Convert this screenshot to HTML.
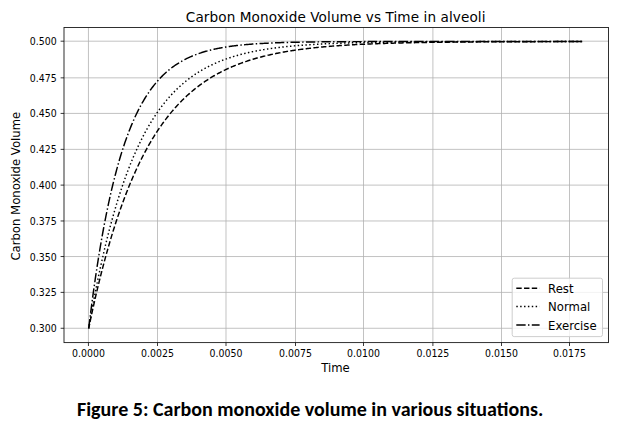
<!DOCTYPE html>
<html><head><meta charset="utf-8"><title>Carbon Monoxide Volume vs Time in alveoli</title>
<style>
html,body{margin:0;padding:0;background:#fff;}
body{width:618px;height:434px;overflow:hidden;}
svg{display:block;}
.g{stroke:#b0b0b0;stroke-width:0.78;}
.sp{fill:none;stroke:#1a1a1a;stroke-width:0.9;}
.tk{stroke:#000;stroke-width:0.78;}
text{font-family:"DejaVu Sans","Liberation Sans",sans-serif;fill:#000;}
.tl{font-size:10.0px;}
.lb{font-size:11.67px;}
.tt{font-size:13.6px;letter-spacing:0.09px;}
.lg{font-size:11.67px;}
.cap{font-family:"Carlito","Calibri","Liberation Sans",sans-serif;font-weight:bold;font-size:20.0px;}
</style></head>
<body>
<svg width="618" height="434" viewBox="0 0 618 434">
<defs><clipPath id="cp"><rect x="64.0" y="27.5" width="544.5" height="315.1"/></clipPath></defs>
<rect width="618" height="434" fill="#fff"/>
<line x1="88.45" y1="27.5" x2="88.45" y2="342.6" class="g"/>
<line x1="157.50" y1="27.5" x2="157.50" y2="342.6" class="g"/>
<line x1="226.00" y1="27.5" x2="226.00" y2="342.6" class="g"/>
<line x1="295.50" y1="27.5" x2="295.50" y2="342.6" class="g"/>
<line x1="363.50" y1="27.5" x2="363.50" y2="342.6" class="g"/>
<line x1="432.90" y1="27.5" x2="432.90" y2="342.6" class="g"/>
<line x1="501.50" y1="27.5" x2="501.50" y2="342.6" class="g"/>
<line x1="569.50" y1="27.5" x2="569.50" y2="342.6" class="g"/>
<line x1="64.0" y1="328.27" x2="608.5" y2="328.27" class="g"/>
<line x1="64.0" y1="292.39" x2="608.5" y2="292.39" class="g"/>
<line x1="64.0" y1="256.54" x2="608.5" y2="256.54" class="g"/>
<line x1="64.0" y1="220.98" x2="608.5" y2="220.98" class="g"/>
<line x1="64.0" y1="185.12" x2="608.5" y2="185.12" class="g"/>
<line x1="64.0" y1="149.36" x2="608.5" y2="149.36" class="g"/>
<line x1="64.0" y1="113.41" x2="608.5" y2="113.41" class="g"/>
<line x1="64.0" y1="77.85" x2="608.5" y2="77.85" class="g"/>
<line x1="64.0" y1="41.20" x2="608.5" y2="41.20" class="g"/>
<g clip-path="url(#cp)" fill="none" stroke="#000" stroke-width="1.46">
<path d="M88.70,328.30 L89.53,324.32 L90.35,320.39 L91.18,316.52 L92.00,312.70 L92.83,308.94 L93.65,305.22 L94.48,301.56 L95.30,297.95 L96.13,294.39 L96.95,290.88 L97.78,287.42 L98.60,284.01 L99.43,280.64 L100.25,277.32 L101.08,274.05 L101.90,270.82 L102.73,267.63 L103.55,264.49 L104.38,261.40 L105.20,258.35 L106.03,255.34 L106.85,252.37 L107.68,249.44 L108.50,246.55 L109.33,243.71 L110.15,240.90 L110.98,238.13 L111.80,235.40 L112.63,232.71 L113.45,230.05 L114.28,227.44 L115.10,224.86 L115.93,222.31 L116.75,219.80 L117.58,217.32 L118.40,214.88 L119.23,212.48 L120.05,210.10 L120.88,207.76 L121.70,205.45 L122.53,203.18 L123.36,200.93 L124.18,198.72 L125.01,196.54 L125.83,194.38 L126.66,192.26 L127.48,190.17 L128.31,188.11 L129.13,186.07 L129.96,184.06 L130.78,182.08 L131.61,180.13 L132.43,178.21 L133.26,176.31 L134.08,174.44 L134.91,172.59 L135.73,170.77 L136.56,168.98 L137.38,167.21 L138.21,165.46 L139.03,163.74 L139.86,162.05 L140.68,160.37 L141.51,158.72 L142.33,157.09 L143.16,155.49 L143.98,153.91 L144.81,152.35 L145.63,150.81 L146.46,149.29 L147.28,147.79 L148.11,146.32 L148.93,144.86 L149.76,143.43 L150.58,142.01 L151.41,140.62 L152.23,139.24 L153.06,137.88 L153.88,136.55 L154.71,135.23 L155.53,133.93 L156.36,132.64 L157.18,131.38 L158.01,130.13 L158.84,128.90 L159.66,127.69 L160.49,126.49 L161.31,125.31 L162.14,124.15 L162.96,123.00 L163.79,121.87 L164.61,120.75 L165.44,119.65 L166.26,118.57 L167.09,117.50 L167.91,116.44 L168.74,115.40 L169.56,114.37 L170.39,113.36 L171.21,112.37 L172.04,111.38 L172.86,110.41 L173.69,109.45 L174.51,108.51 L175.34,107.58 L176.16,106.66 L176.99,105.76 L177.81,104.87 L178.64,103.99 L179.46,103.12 L180.29,102.26 L181.11,101.42 L181.94,100.59 L182.76,99.77 L183.59,98.96 L184.41,98.16 L185.24,97.38 L186.06,96.60 L186.89,95.83 L187.71,95.08 L188.54,94.34 L189.36,93.60 L190.19,92.88 L191.01,92.17 L191.84,91.46 L192.67,90.77 L193.49,90.09 L194.32,89.41 L195.14,88.75 L195.97,88.09 L196.79,87.44 L197.62,86.81 L198.44,86.18 L199.27,85.56 L200.09,84.94 L200.92,84.34 L201.74,83.75 L202.57,83.16 L203.39,82.58 L204.22,82.01 L205.04,81.45 L205.87,80.89 L206.69,80.35 L207.52,79.81 L208.34,79.28 L209.17,78.75 L209.99,78.23 L210.82,77.72 L211.64,77.22 L212.47,76.73 L213.29,76.24 L214.12,75.75 L214.94,75.28 L215.77,74.81 L216.59,74.35 L217.42,73.89 L218.24,73.44 L219.07,73.00 L219.89,72.56 L220.72,72.13 L221.54,71.70 L222.37,71.29 L223.19,70.87 L224.02,70.46 L224.84,70.06 L225.67,69.67 L226.50,69.27 L227.32,68.89 L228.15,68.51 L228.97,68.13 L229.80,67.76 L230.62,67.40 L231.45,67.04 L232.27,66.69 L233.10,66.34 L233.92,65.99 L234.75,65.65 L235.57,65.32 L236.40,64.99 L237.22,64.66 L238.05,64.34 L238.87,64.02 L239.70,63.71 L240.52,63.40 L241.35,63.10 L242.17,62.80 L243.00,62.50 L243.82,62.21 L244.65,61.92 L245.47,61.64 L246.30,61.36 L247.12,61.08 L247.95,60.81 L248.77,60.54 L249.60,60.28 L250.42,60.02 L251.25,59.76 L252.07,59.51 L252.90,59.26 L253.72,59.01 L254.55,58.77 L255.37,58.53 L256.20,58.29 L257.02,58.06 L257.85,57.83 L258.67,57.60 L259.50,57.38 L260.32,57.16 L261.15,56.94 L261.98,56.73 L262.80,56.51 L263.63,56.31 L264.45,56.10 L265.28,55.90 L266.10,55.70 L266.93,55.50 L267.75,55.31 L268.58,55.11 L269.40,54.93 L270.23,54.74 L271.05,54.56 L271.88,54.37 L272.70,54.20 L273.53,54.02 L274.35,53.85 L275.18,53.67 L276.00,53.51 L276.83,53.34 L277.65,53.17 L278.48,53.01 L279.30,52.85 L280.13,52.69 L280.95,52.54 L281.78,52.39 L282.60,52.23 L283.43,52.09 L284.25,51.94 L285.08,51.79 L285.90,51.65 L286.73,51.51 L287.55,51.37 L288.38,51.23 L289.20,51.10 L290.03,50.97 L290.85,50.83 L291.68,50.70 L292.50,50.58 L293.33,50.45 L294.15,50.33 L294.98,50.20 L295.81,50.08 L296.63,49.96 L297.46,49.85 L298.28,49.73 L299.11,49.62 L299.93,49.50 L300.76,49.39 L301.58,49.28 L302.41,49.17 L303.23,49.07 L304.06,48.96 L304.88,48.86 L305.71,48.76 L306.53,48.66 L307.36,48.56 L308.18,48.46 L309.01,48.36 L309.83,48.27 L310.66,48.17 L311.48,48.08 L312.31,47.99 L313.13,47.90 L313.96,47.81 L314.78,47.72 L315.61,47.64 L316.43,47.55 L317.26,47.47 L318.08,47.38 L318.91,47.30 L319.73,47.22 L320.56,47.14 L321.38,47.06 L322.21,46.99 L323.03,46.91 L323.86,46.84 L324.68,46.76 L325.51,46.69 L326.33,46.62 L327.16,46.55 L327.98,46.48 L328.81,46.41 L329.64,46.34 L330.46,46.27 L331.29,46.21 L332.11,46.14 L332.94,46.08 L333.76,46.01 L334.59,45.95 L335.41,45.89 L336.24,45.83 L337.06,45.77 L337.89,45.71 L338.71,45.65 L339.54,45.59 L340.36,45.53 L341.19,45.48 L342.01,45.42 L342.84,45.37 L343.66,45.32 L344.49,45.26 L345.31,45.21 L346.14,45.16 L346.96,45.11 L347.79,45.06 L348.61,45.01 L349.44,44.96 L350.26,44.91 L351.09,44.86 L351.91,44.82 L352.74,44.77 L353.56,44.73 L354.39,44.68 L355.21,44.64 L356.04,44.59 L356.86,44.55 L357.69,44.51 L358.51,44.47 L359.34,44.43 L360.16,44.38 L360.99,44.34 L361.81,44.31 L362.64,44.27 L363.46,44.23 L364.29,44.19 L365.12,44.15 L365.94,44.12 L366.77,44.08 L367.59,44.04 L368.42,44.01 L369.24,43.97 L370.07,43.94 L370.89,43.91 L371.72,43.87 L372.54,43.84 L373.37,43.81 L374.19,43.77 L375.02,43.74 L375.84,43.71 L376.67,43.68 L377.49,43.65 L378.32,43.62 L379.14,43.59 L379.97,43.56 L380.79,43.53 L381.62,43.51 L382.44,43.48 L383.27,43.45 L384.09,43.42 L384.92,43.40 L385.74,43.37 L386.57,43.34 L387.39,43.32 L388.22,43.29 L389.04,43.27 L389.87,43.24 L390.69,43.22 L391.52,43.20 L392.34,43.17 L393.17,43.15 L393.99,43.13 L394.82,43.10 L395.64,43.08 L396.47,43.06 L397.29,43.04 L398.12,43.02 L398.95,43.00 L399.77,42.97 L400.60,42.95 L401.42,42.93 L402.25,42.91 L403.07,42.89 L403.90,42.87 L404.72,42.86 L405.55,42.84 L406.37,42.82 L407.20,42.80 L408.02,42.78 L408.85,42.76 L409.67,42.75 L410.50,42.73 L411.32,42.71 L412.15,42.70 L412.97,42.68 L413.80,42.66 L414.62,42.65 L415.45,42.63 L416.27,42.61 L417.10,42.60 L417.92,42.58 L418.75,42.57 L419.57,42.55 L420.40,42.54 L421.22,42.53 L422.05,42.51 L422.87,42.50 L423.70,42.48 L424.52,42.47 L425.35,42.46 L426.17,42.44 L427.00,42.43 L427.82,42.42 L428.65,42.40 L429.47,42.39 L430.30,42.38 L431.12,42.37 L431.95,42.35 L432.78,42.34 L433.60,42.33 L434.43,42.32 L435.25,42.31 L436.08,42.30 L436.90,42.29 L437.73,42.28 L438.55,42.26 L439.38,42.25 L440.20,42.24 L441.03,42.23 L441.85,42.22 L442.68,42.21 L443.50,42.20 L444.33,42.19 L445.15,42.18 L445.98,42.17 L446.80,42.16 L447.63,42.16 L448.45,42.15 L449.28,42.14 L450.10,42.13 L450.93,42.12 L451.75,42.11 L452.58,42.10 L453.40,42.09 L454.23,42.09 L455.05,42.08 L455.88,42.07 L456.70,42.06 L457.53,42.05 L458.35,42.05 L459.18,42.04 L460.00,42.03 L460.83,42.02 L461.65,42.02 L462.48,42.01 L463.30,42.00 L464.13,42.00 L464.95,41.99 L465.78,41.98 L466.60,41.98 L467.43,41.97 L468.26,41.96 L469.08,41.96 L469.91,41.95 L470.73,41.94 L471.56,41.94 L472.38,41.93 L473.21,41.92 L474.03,41.92 L474.86,41.91 L475.68,41.91 L476.51,41.90 L477.33,41.90 L478.16,41.89 L478.98,41.89 L479.81,41.88 L480.63,41.87 L481.46,41.87 L482.28,41.86 L483.11,41.86 L483.93,41.85 L484.76,41.85 L485.58,41.84 L486.41,41.84 L487.23,41.84 L488.06,41.83 L488.88,41.83 L489.71,41.82 L490.53,41.82 L491.36,41.81 L492.18,41.81 L493.01,41.80 L493.83,41.80 L494.66,41.80 L495.48,41.79 L496.31,41.79 L497.13,41.78 L497.96,41.78 L498.78,41.78 L499.61,41.77 L500.43,41.77 L501.26,41.76 L502.09,41.76 L502.91,41.76 L503.74,41.75 L504.56,41.75 L505.39,41.75 L506.21,41.74 L507.04,41.74 L507.86,41.74 L508.69,41.73 L509.51,41.73 L510.34,41.73 L511.16,41.72 L511.99,41.72 L512.81,41.72 L513.64,41.71 L514.46,41.71 L515.29,41.71 L516.11,41.71 L516.94,41.70 L517.76,41.70 L518.59,41.70 L519.41,41.69 L520.24,41.69 L521.06,41.69 L521.89,41.69 L522.71,41.68 L523.54,41.68 L524.36,41.68 L525.19,41.68 L526.01,41.67 L526.84,41.67 L527.66,41.67 L528.49,41.67 L529.31,41.66 L530.14,41.66 L530.96,41.66 L531.79,41.66 L532.61,41.66 L533.44,41.65 L534.26,41.65 L535.09,41.65 L535.92,41.65 L536.74,41.64 L537.57,41.64 L538.39,41.64 L539.22,41.64 L540.04,41.64 L540.87,41.64 L541.69,41.63 L542.52,41.63 L543.34,41.63 L544.17,41.63 L544.99,41.63 L545.82,41.62 L546.64,41.62 L547.47,41.62 L548.29,41.62 L549.12,41.62 L549.94,41.62 L550.77,41.61 L551.59,41.61 L552.42,41.61 L553.24,41.61 L554.07,41.61 L554.89,41.61 L555.72,41.60 L556.54,41.60 L557.37,41.60 L558.19,41.60 L559.02,41.60 L559.84,41.60 L560.67,41.60 L561.49,41.60 L562.32,41.59 L563.14,41.59 L563.97,41.59 L564.79,41.59 L565.62,41.59 L566.44,41.59 L567.27,41.59 L568.09,41.59 L568.92,41.58 L569.74,41.58 L570.57,41.58 L571.40,41.58 L572.22,41.58 L573.05,41.58 L573.87,41.58 L574.70,41.58 L575.52,41.58 L576.35,41.57 L577.17,41.57 L578.00,41.57 L578.82,41.57 L579.65,41.57 L580.47,41.57 L581.30,41.57 L582.12,41.57 L582.95,41.57 L583.77,41.57" stroke-dasharray="5.40,2.34" stroke-dashoffset="0.9"/>
<path d="M88.70,328.30 L89.53,323.52 L90.35,318.82 L91.18,314.20 L92.00,309.66 L92.83,305.19 L93.65,300.80 L94.48,296.48 L95.30,292.23 L96.13,288.06 L96.95,283.95 L97.78,279.91 L98.60,275.94 L99.43,272.03 L100.25,268.19 L101.08,264.41 L101.90,260.70 L102.73,257.05 L103.55,253.46 L104.38,249.93 L105.20,246.45 L106.03,243.04 L106.85,239.68 L107.68,236.38 L108.50,233.13 L109.33,229.94 L110.15,226.80 L110.98,223.71 L111.80,220.68 L112.63,217.69 L113.45,214.76 L114.28,211.87 L115.10,209.03 L115.93,206.24 L116.75,203.50 L117.58,200.80 L118.40,198.15 L119.23,195.54 L120.05,192.97 L120.88,190.45 L121.70,187.96 L122.53,185.52 L123.36,183.13 L124.18,180.77 L125.01,178.45 L125.83,176.16 L126.66,173.92 L127.48,171.71 L128.31,169.55 L129.13,167.41 L129.96,165.31 L130.78,163.25 L131.61,161.22 L132.43,159.23 L133.26,157.27 L134.08,155.34 L134.91,153.44 L135.73,151.58 L136.56,149.74 L137.38,147.94 L138.21,146.17 L139.03,144.42 L139.86,142.71 L140.68,141.02 L141.51,139.36 L142.33,137.73 L143.16,136.13 L143.98,134.55 L144.81,133.00 L145.63,131.48 L146.46,129.98 L147.28,128.51 L148.11,127.06 L148.93,125.63 L149.76,124.23 L150.58,122.85 L151.41,121.50 L152.23,120.16 L153.06,118.85 L153.88,117.56 L154.71,116.30 L155.53,115.05 L156.36,113.83 L157.18,112.62 L158.01,111.44 L158.84,110.27 L159.66,109.13 L160.49,108.00 L161.31,106.89 L162.14,105.80 L162.96,104.73 L163.79,103.68 L164.61,102.64 L165.44,101.62 L166.26,100.62 L167.09,99.64 L167.91,98.67 L168.74,97.72 L169.56,96.78 L170.39,95.86 L171.21,94.95 L172.04,94.06 L172.86,93.19 L173.69,92.32 L174.51,91.48 L175.34,90.65 L176.16,89.83 L176.99,89.02 L177.81,88.23 L178.64,87.45 L179.46,86.69 L180.29,85.93 L181.11,85.19 L181.94,84.46 L182.76,83.75 L183.59,83.05 L184.41,82.35 L185.24,81.67 L186.06,81.00 L186.89,80.35 L187.71,79.70 L188.54,79.06 L189.36,78.44 L190.19,77.82 L191.01,77.22 L191.84,76.62 L192.67,76.04 L193.49,75.46 L194.32,74.89 L195.14,74.34 L195.97,73.79 L196.79,73.25 L197.62,72.72 L198.44,72.20 L199.27,71.69 L200.09,71.19 L200.92,70.69 L201.74,70.21 L202.57,69.73 L203.39,69.26 L204.22,68.80 L205.04,68.34 L205.87,67.90 L206.69,67.46 L207.52,67.02 L208.34,66.60 L209.17,66.18 L209.99,65.77 L210.82,65.36 L211.64,64.97 L212.47,64.58 L213.29,64.19 L214.12,63.81 L214.94,63.44 L215.77,63.08 L216.59,62.72 L217.42,62.36 L218.24,62.02 L219.07,61.67 L219.89,61.34 L220.72,61.01 L221.54,60.68 L222.37,60.36 L223.19,60.05 L224.02,59.74 L224.84,59.44 L225.67,59.14 L226.50,58.84 L227.32,58.55 L228.15,58.27 L228.97,57.99 L229.80,57.72 L230.62,57.45 L231.45,57.18 L232.27,56.92 L233.10,56.66 L233.92,56.41 L234.75,56.16 L235.57,55.92 L236.40,55.68 L237.22,55.44 L238.05,55.21 L238.87,54.98 L239.70,54.76 L240.52,54.53 L241.35,54.32 L242.17,54.10 L243.00,53.89 L243.82,53.69 L244.65,53.48 L245.47,53.28 L246.30,53.09 L247.12,52.90 L247.95,52.71 L248.77,52.52 L249.60,52.34 L250.42,52.15 L251.25,51.98 L252.07,51.80 L252.90,51.63 L253.72,51.46 L254.55,51.30 L255.37,51.13 L256.20,50.97 L257.02,50.81 L257.85,50.66 L258.67,50.51 L259.50,50.36 L260.32,50.21 L261.15,50.06 L261.98,49.92 L262.80,49.78 L263.63,49.64 L264.45,49.51 L265.28,49.37 L266.10,49.24 L266.93,49.11 L267.75,48.99 L268.58,48.86 L269.40,48.74 L270.23,48.62 L271.05,48.50 L271.88,48.38 L272.70,48.27 L273.53,48.16 L274.35,48.05 L275.18,47.94 L276.00,47.83 L276.83,47.72 L277.65,47.62 L278.48,47.52 L279.30,47.42 L280.13,47.32 L280.95,47.22 L281.78,47.13 L282.60,47.03 L283.43,46.94 L284.25,46.85 L285.08,46.76 L285.90,46.67 L286.73,46.59 L287.55,46.50 L288.38,46.42 L289.20,46.34 L290.03,46.26 L290.85,46.18 L291.68,46.10 L292.50,46.02 L293.33,45.95 L294.15,45.87 L294.98,45.80 L295.81,45.73 L296.63,45.66 L297.46,45.59 L298.28,45.52 L299.11,45.45 L299.93,45.39 L300.76,45.32 L301.58,45.26 L302.41,45.20 L303.23,45.14 L304.06,45.08 L304.88,45.02 L305.71,44.96 L306.53,44.90 L307.36,44.84 L308.18,44.79 L309.01,44.73 L309.83,44.68 L310.66,44.63 L311.48,44.57 L312.31,44.52 L313.13,44.47 L313.96,44.42 L314.78,44.37 L315.61,44.33 L316.43,44.28 L317.26,44.23 L318.08,44.19 L318.91,44.14 L319.73,44.10 L320.56,44.05 L321.38,44.01 L322.21,43.97 L323.03,43.93 L323.86,43.89 L324.68,43.85 L325.51,43.81 L326.33,43.77 L327.16,43.73 L327.98,43.70 L328.81,43.66 L329.64,43.62 L330.46,43.59 L331.29,43.55 L332.11,43.52 L332.94,43.49 L333.76,43.45 L334.59,43.42 L335.41,43.39 L336.24,43.36 L337.06,43.33 L337.89,43.30 L338.71,43.27 L339.54,43.24 L340.36,43.21 L341.19,43.18 L342.01,43.15 L342.84,43.12 L343.66,43.10 L344.49,43.07 L345.31,43.04 L346.14,43.02 L346.96,42.99 L347.79,42.97 L348.61,42.94 L349.44,42.92 L350.26,42.90 L351.09,42.87 L351.91,42.85 L352.74,42.83 L353.56,42.80 L354.39,42.78 L355.21,42.76 L356.04,42.74 L356.86,42.72 L357.69,42.70 L358.51,42.68 L359.34,42.66 L360.16,42.64 L360.99,42.62 L361.81,42.60 L362.64,42.58 L363.46,42.57 L364.29,42.55 L365.12,42.53 L365.94,42.51 L366.77,42.50 L367.59,42.48 L368.42,42.46 L369.24,42.45 L370.07,42.43 L370.89,42.42 L371.72,42.40 L372.54,42.39 L373.37,42.37 L374.19,42.36 L375.02,42.34 L375.84,42.33 L376.67,42.32 L377.49,42.30 L378.32,42.29 L379.14,42.28 L379.97,42.26 L380.79,42.25 L381.62,42.24 L382.44,42.22 L383.27,42.21 L384.09,42.20 L384.92,42.19 L385.74,42.18 L386.57,42.17 L387.39,42.16 L388.22,42.14 L389.04,42.13 L389.87,42.12 L390.69,42.11 L391.52,42.10 L392.34,42.09 L393.17,42.08 L393.99,42.07 L394.82,42.06 L395.64,42.05 L396.47,42.04 L397.29,42.04 L398.12,42.03 L398.95,42.02 L399.77,42.01 L400.60,42.00 L401.42,41.99 L402.25,41.98 L403.07,41.98 L403.90,41.97 L404.72,41.96 L405.55,41.95 L406.37,41.95 L407.20,41.94 L408.02,41.93 L408.85,41.92 L409.67,41.92 L410.50,41.91 L411.32,41.90 L412.15,41.90 L412.97,41.89 L413.80,41.88 L414.62,41.88 L415.45,41.87 L416.27,41.86 L417.10,41.86 L417.92,41.85 L418.75,41.85 L419.57,41.84 L420.40,41.83 L421.22,41.83 L422.05,41.82 L422.87,41.82 L423.70,41.81 L424.52,41.81 L425.35,41.80 L426.17,41.80 L427.00,41.79 L427.82,41.79 L428.65,41.78 L429.47,41.78 L430.30,41.77 L431.12,41.77 L431.95,41.76 L432.78,41.76 L433.60,41.76 L434.43,41.75 L435.25,41.75 L436.08,41.74 L436.90,41.74 L437.73,41.74 L438.55,41.73 L439.38,41.73 L440.20,41.72 L441.03,41.72 L441.85,41.72 L442.68,41.71 L443.50,41.71 L444.33,41.71 L445.15,41.70 L445.98,41.70 L446.80,41.70 L447.63,41.69 L448.45,41.69 L449.28,41.69 L450.10,41.68 L450.93,41.68 L451.75,41.68 L452.58,41.67 L453.40,41.67 L454.23,41.67 L455.05,41.67 L455.88,41.66 L456.70,41.66 L457.53,41.66 L458.35,41.65 L459.18,41.65 L460.00,41.65 L460.83,41.65 L461.65,41.64 L462.48,41.64 L463.30,41.64 L464.13,41.64 L464.95,41.64 L465.78,41.63 L466.60,41.63 L467.43,41.63 L468.26,41.63 L469.08,41.62 L469.91,41.62 L470.73,41.62 L471.56,41.62 L472.38,41.62 L473.21,41.61 L474.03,41.61 L474.86,41.61 L475.68,41.61 L476.51,41.61 L477.33,41.60 L478.16,41.60 L478.98,41.60 L479.81,41.60 L480.63,41.60 L481.46,41.60 L482.28,41.59 L483.11,41.59 L483.93,41.59 L484.76,41.59 L485.58,41.59 L486.41,41.59 L487.23,41.59 L488.06,41.58 L488.88,41.58 L489.71,41.58 L490.53,41.58 L491.36,41.58 L492.18,41.58 L493.01,41.58 L493.83,41.58 L494.66,41.57 L495.48,41.57 L496.31,41.57 L497.13,41.57 L497.96,41.57 L498.78,41.57 L499.61,41.57 L500.43,41.57 L501.26,41.56 L502.09,41.56 L502.91,41.56 L503.74,41.56 L504.56,41.56 L505.39,41.56 L506.21,41.56 L507.04,41.56 L507.86,41.56 L508.69,41.56 L509.51,41.55 L510.34,41.55 L511.16,41.55 L511.99,41.55 L512.81,41.55 L513.64,41.55 L514.46,41.55 L515.29,41.55 L516.11,41.55 L516.94,41.55 L517.76,41.55 L518.59,41.55 L519.41,41.54 L520.24,41.54 L521.06,41.54 L521.89,41.54 L522.71,41.54 L523.54,41.54 L524.36,41.54 L525.19,41.54 L526.01,41.54 L526.84,41.54 L527.66,41.54 L528.49,41.54 L529.31,41.54 L530.14,41.54 L530.96,41.54 L531.79,41.53 L532.61,41.53 L533.44,41.53 L534.26,41.53 L535.09,41.53 L535.92,41.53 L536.74,41.53 L537.57,41.53 L538.39,41.53 L539.22,41.53 L540.04,41.53 L540.87,41.53 L541.69,41.53 L542.52,41.53 L543.34,41.53 L544.17,41.53 L544.99,41.53 L545.82,41.53 L546.64,41.53 L547.47,41.53 L548.29,41.52 L549.12,41.52 L549.94,41.52 L550.77,41.52 L551.59,41.52 L552.42,41.52 L553.24,41.52 L554.07,41.52 L554.89,41.52 L555.72,41.52 L556.54,41.52 L557.37,41.52 L558.19,41.52 L559.02,41.52 L559.84,41.52 L560.67,41.52 L561.49,41.52 L562.32,41.52 L563.14,41.52 L563.97,41.52 L564.79,41.52 L565.62,41.52 L566.44,41.52 L567.27,41.52 L568.09,41.52 L568.92,41.52 L569.74,41.52 L570.57,41.52 L571.40,41.52 L572.22,41.52 L573.05,41.51 L573.87,41.51 L574.70,41.51 L575.52,41.51 L576.35,41.51 L577.17,41.51 L578.00,41.51 L578.82,41.51 L579.65,41.51 L580.47,41.51 L581.30,41.51 L582.12,41.51 L582.95,41.51 L583.77,41.51" stroke-dasharray="1.46,2.41" stroke-dashoffset="1.1"/>
<path d="M88.70,328.30 L89.53,321.57 L90.35,314.99 L91.18,308.57 L92.00,302.30 L92.83,296.17 L93.65,290.19 L94.48,284.36 L95.30,278.65 L96.13,273.08 L96.95,267.65 L97.78,262.34 L98.60,257.15 L99.43,252.09 L100.25,247.14 L101.08,242.32 L101.90,237.60 L102.73,233.00 L103.55,228.50 L104.38,224.11 L105.20,219.82 L106.03,215.63 L106.85,211.55 L107.68,207.55 L108.50,203.65 L109.33,199.85 L110.15,196.13 L110.98,192.50 L111.80,188.95 L112.63,185.49 L113.45,182.11 L114.28,178.81 L115.10,175.58 L115.93,172.44 L116.75,169.36 L117.58,166.36 L118.40,163.43 L119.23,160.56 L120.05,157.77 L120.88,155.04 L121.70,152.37 L122.53,149.77 L123.36,147.23 L124.18,144.75 L125.01,142.32 L125.83,139.95 L126.66,137.64 L127.48,135.38 L128.31,133.18 L129.13,131.03 L129.96,128.93 L130.78,126.87 L131.61,124.87 L132.43,122.91 L133.26,121.00 L134.08,119.13 L134.91,117.31 L135.73,115.53 L136.56,113.79 L137.38,112.09 L138.21,110.44 L139.03,108.82 L139.86,107.24 L140.68,105.69 L141.51,104.19 L142.33,102.71 L143.16,101.28 L143.98,99.87 L144.81,98.50 L145.63,97.16 L146.46,95.86 L147.28,94.58 L148.11,93.33 L148.93,92.12 L149.76,90.93 L150.58,89.77 L151.41,88.64 L152.23,87.53 L153.06,86.45 L153.88,85.39 L154.71,84.36 L155.53,83.36 L156.36,82.37 L157.18,81.41 L158.01,80.48 L158.84,79.56 L159.66,78.67 L160.49,77.79 L161.31,76.94 L162.14,76.11 L162.96,75.30 L163.79,74.50 L164.61,73.73 L165.44,72.97 L166.26,72.23 L167.09,71.51 L167.91,70.81 L168.74,70.12 L169.56,69.45 L170.39,68.79 L171.21,68.15 L172.04,67.52 L172.86,66.91 L173.69,66.32 L174.51,65.73 L175.34,65.16 L176.16,64.61 L176.99,64.07 L177.81,63.54 L178.64,63.02 L179.46,62.51 L180.29,62.02 L181.11,61.54 L181.94,61.07 L182.76,60.61 L183.59,60.16 L184.41,59.72 L185.24,59.29 L186.06,58.88 L186.89,58.47 L187.71,58.07 L188.54,57.68 L189.36,57.30 L190.19,56.93 L191.01,56.57 L191.84,56.21 L192.67,55.87 L193.49,55.53 L194.32,55.20 L195.14,54.88 L195.97,54.57 L196.79,54.26 L197.62,53.96 L198.44,53.67 L199.27,53.38 L200.09,53.10 L200.92,52.83 L201.74,52.56 L202.57,52.30 L203.39,52.05 L204.22,51.80 L205.04,51.56 L205.87,51.32 L206.69,51.09 L207.52,50.87 L208.34,50.65 L209.17,50.43 L209.99,50.22 L210.82,50.02 L211.64,49.82 L212.47,49.62 L213.29,49.43 L214.12,49.25 L214.94,49.06 L215.77,48.89 L216.59,48.71 L217.42,48.54 L218.24,48.38 L219.07,48.22 L219.89,48.06 L220.72,47.91 L221.54,47.76 L222.37,47.61 L223.19,47.46 L224.02,47.32 L224.84,47.19 L225.67,47.05 L226.50,46.92 L227.32,46.80 L228.15,46.67 L228.97,46.55 L229.80,46.43 L230.62,46.32 L231.45,46.20 L232.27,46.09 L233.10,45.99 L233.92,45.88 L234.75,45.78 L235.57,45.68 L236.40,45.58 L237.22,45.48 L238.05,45.39 L238.87,45.30 L239.70,45.21 L240.52,45.12 L241.35,45.04 L242.17,44.95 L243.00,44.87 L243.82,44.79 L244.65,44.72 L245.47,44.64 L246.30,44.57 L247.12,44.49 L247.95,44.42 L248.77,44.36 L249.60,44.29 L250.42,44.22 L251.25,44.16 L252.07,44.10 L252.90,44.04 L253.72,43.98 L254.55,43.92 L255.37,43.86 L256.20,43.81 L257.02,43.75 L257.85,43.70 L258.67,43.65 L259.50,43.60 L260.32,43.55 L261.15,43.50 L261.98,43.45 L262.80,43.41 L263.63,43.36 L264.45,43.32 L265.28,43.28 L266.10,43.23 L266.93,43.19 L267.75,43.15 L268.58,43.11 L269.40,43.08 L270.23,43.04 L271.05,43.00 L271.88,42.97 L272.70,42.93 L273.53,42.90 L274.35,42.87 L275.18,42.84 L276.00,42.80 L276.83,42.77 L277.65,42.74 L278.48,42.71 L279.30,42.69 L280.13,42.66 L280.95,42.63 L281.78,42.60 L282.60,42.58 L283.43,42.55 L284.25,42.53 L285.08,42.50 L285.90,42.48 L286.73,42.46 L287.55,42.43 L288.38,42.41 L289.20,42.39 L290.03,42.37 L290.85,42.35 L291.68,42.33 L292.50,42.31 L293.33,42.29 L294.15,42.27 L294.98,42.25 L295.81,42.24 L296.63,42.22 L297.46,42.20 L298.28,42.19 L299.11,42.17 L299.93,42.15 L300.76,42.14 L301.58,42.12 L302.41,42.11 L303.23,42.10 L304.06,42.08 L304.88,42.07 L305.71,42.05 L306.53,42.04 L307.36,42.03 L308.18,42.02 L309.01,42.00 L309.83,41.99 L310.66,41.98 L311.48,41.97 L312.31,41.96 L313.13,41.95 L313.96,41.94 L314.78,41.93 L315.61,41.92 L316.43,41.91 L317.26,41.90 L318.08,41.89 L318.91,41.88 L319.73,41.87 L320.56,41.86 L321.38,41.85 L322.21,41.84 L323.03,41.84 L323.86,41.83 L324.68,41.82 L325.51,41.81 L326.33,41.81 L327.16,41.80 L327.98,41.79 L328.81,41.78 L329.64,41.78 L330.46,41.77 L331.29,41.77 L332.11,41.76 L332.94,41.75 L333.76,41.75 L334.59,41.74 L335.41,41.74 L336.24,41.73 L337.06,41.72 L337.89,41.72 L338.71,41.71 L339.54,41.71 L340.36,41.70 L341.19,41.70 L342.01,41.69 L342.84,41.69 L343.66,41.69 L344.49,41.68 L345.31,41.68 L346.14,41.67 L346.96,41.67 L347.79,41.66 L348.61,41.66 L349.44,41.66 L350.26,41.65 L351.09,41.65 L351.91,41.65 L352.74,41.64 L353.56,41.64 L354.39,41.64 L355.21,41.63 L356.04,41.63 L356.86,41.63 L357.69,41.62 L358.51,41.62 L359.34,41.62 L360.16,41.62 L360.99,41.61 L361.81,41.61 L362.64,41.61 L363.46,41.61 L364.29,41.60 L365.12,41.60 L365.94,41.60 L366.77,41.60 L367.59,41.59 L368.42,41.59 L369.24,41.59 L370.07,41.59 L370.89,41.58 L371.72,41.58 L372.54,41.58 L373.37,41.58 L374.19,41.58 L375.02,41.58 L375.84,41.57 L376.67,41.57 L377.49,41.57 L378.32,41.57 L379.14,41.57 L379.97,41.57 L380.79,41.56 L381.62,41.56 L382.44,41.56 L383.27,41.56 L384.09,41.56 L384.92,41.56 L385.74,41.56 L386.57,41.55 L387.39,41.55 L388.22,41.55 L389.04,41.55 L389.87,41.55 L390.69,41.55 L391.52,41.55 L392.34,41.55 L393.17,41.54 L393.99,41.54 L394.82,41.54 L395.64,41.54 L396.47,41.54 L397.29,41.54 L398.12,41.54 L398.95,41.54 L399.77,41.54 L400.60,41.54 L401.42,41.54 L402.25,41.53 L403.07,41.53 L403.90,41.53 L404.72,41.53 L405.55,41.53 L406.37,41.53 L407.20,41.53 L408.02,41.53 L408.85,41.53 L409.67,41.53 L410.50,41.53 L411.32,41.53 L412.15,41.53 L412.97,41.53 L413.80,41.52 L414.62,41.52 L415.45,41.52 L416.27,41.52 L417.10,41.52 L417.92,41.52 L418.75,41.52 L419.57,41.52 L420.40,41.52 L421.22,41.52 L422.05,41.52 L422.87,41.52 L423.70,41.52 L424.52,41.52 L425.35,41.52 L426.17,41.52 L427.00,41.52 L427.82,41.52 L428.65,41.52 L429.47,41.52 L430.30,41.52 L431.12,41.51 L431.95,41.51 L432.78,41.51 L433.60,41.51 L434.43,41.51 L435.25,41.51 L436.08,41.51 L436.90,41.51 L437.73,41.51 L438.55,41.51 L439.38,41.51 L440.20,41.51 L441.03,41.51 L441.85,41.51 L442.68,41.51 L443.50,41.51 L444.33,41.51 L445.15,41.51 L445.98,41.51 L446.80,41.51 L447.63,41.51 L448.45,41.51 L449.28,41.51 L450.10,41.51 L450.93,41.51 L451.75,41.51 L452.58,41.51 L453.40,41.51 L454.23,41.51 L455.05,41.51 L455.88,41.51 L456.70,41.51 L457.53,41.51 L458.35,41.51 L459.18,41.51 L460.00,41.51 L460.83,41.51 L461.65,41.51 L462.48,41.51 L463.30,41.51 L464.13,41.51 L464.95,41.51 L465.78,41.51 L466.60,41.51 L467.43,41.51 L468.26,41.51 L469.08,41.51 L469.91,41.50 L470.73,41.50 L471.56,41.50 L472.38,41.50 L473.21,41.50 L474.03,41.50 L474.86,41.50 L475.68,41.50 L476.51,41.50 L477.33,41.50 L478.16,41.50 L478.98,41.50 L479.81,41.50 L480.63,41.50 L481.46,41.50 L482.28,41.50 L483.11,41.50 L483.93,41.50 L484.76,41.50 L485.58,41.50 L486.41,41.50 L487.23,41.50 L488.06,41.50 L488.88,41.50 L489.71,41.50 L490.53,41.50 L491.36,41.50 L492.18,41.50 L493.01,41.50 L493.83,41.50 L494.66,41.50 L495.48,41.50 L496.31,41.50 L497.13,41.50 L497.96,41.50 L498.78,41.50 L499.61,41.50 L500.43,41.50 L501.26,41.50 L502.09,41.50 L502.91,41.50 L503.74,41.50 L504.56,41.50 L505.39,41.50 L506.21,41.50 L507.04,41.50 L507.86,41.50 L508.69,41.50 L509.51,41.50 L510.34,41.50 L511.16,41.50 L511.99,41.50 L512.81,41.50 L513.64,41.50 L514.46,41.50 L515.29,41.50 L516.11,41.50 L516.94,41.50 L517.76,41.50 L518.59,41.50 L519.41,41.50 L520.24,41.50 L521.06,41.50 L521.89,41.50 L522.71,41.50 L523.54,41.50 L524.36,41.50 L525.19,41.50 L526.01,41.50 L526.84,41.50 L527.66,41.50 L528.49,41.50 L529.31,41.50 L530.14,41.50 L530.96,41.50 L531.79,41.50 L532.61,41.50 L533.44,41.50 L534.26,41.50 L535.09,41.50 L535.92,41.50 L536.74,41.50 L537.57,41.50 L538.39,41.50 L539.22,41.50 L540.04,41.50 L540.87,41.50 L541.69,41.50 L542.52,41.50 L543.34,41.50 L544.17,41.50 L544.99,41.50 L545.82,41.50 L546.64,41.50 L547.47,41.50 L548.29,41.50 L549.12,41.50 L549.94,41.50 L550.77,41.50 L551.59,41.50 L552.42,41.50 L553.24,41.50 L554.07,41.50 L554.89,41.50 L555.72,41.50 L556.54,41.50 L557.37,41.50 L558.19,41.50 L559.02,41.50 L559.84,41.50 L560.67,41.50 L561.49,41.50 L562.32,41.50 L563.14,41.50 L563.97,41.50 L564.79,41.50 L565.62,41.50 L566.44,41.50 L567.27,41.50 L568.09,41.50 L568.92,41.50 L569.74,41.50 L570.57,41.50 L571.40,41.50 L572.22,41.50 L573.05,41.50 L573.87,41.50 L574.70,41.50 L575.52,41.50 L576.35,41.50 L577.17,41.50 L578.00,41.50 L578.82,41.50 L579.65,41.50 L580.47,41.50 L581.30,41.50 L582.12,41.50 L582.95,41.50 L583.77,41.50" stroke-dasharray="9.34,2.34,1.46,2.34"/>
</g>
<rect x="64.0" y="27.5" width="544.5" height="315.1" class="sp"/>
<line x1="88.45" y1="342.6" x2="88.45" y2="346.00" class="tk"/>
<text transform="translate(88.45,356.65) scale(0.94,1)" class="tl" text-anchor="middle">0.0000</text>
<line x1="157.50" y1="342.6" x2="157.50" y2="346.00" class="tk"/>
<text transform="translate(157.50,356.65) scale(0.94,1)" class="tl" text-anchor="middle">0.0025</text>
<line x1="226.00" y1="342.6" x2="226.00" y2="346.00" class="tk"/>
<text transform="translate(226.00,356.65) scale(0.94,1)" class="tl" text-anchor="middle">0.0050</text>
<line x1="295.50" y1="342.6" x2="295.50" y2="346.00" class="tk"/>
<text transform="translate(295.50,356.65) scale(0.94,1)" class="tl" text-anchor="middle">0.0075</text>
<line x1="363.50" y1="342.6" x2="363.50" y2="346.00" class="tk"/>
<text transform="translate(363.50,356.65) scale(0.94,1)" class="tl" text-anchor="middle">0.0100</text>
<line x1="432.90" y1="342.6" x2="432.90" y2="346.00" class="tk"/>
<text transform="translate(432.90,356.65) scale(0.94,1)" class="tl" text-anchor="middle">0.0125</text>
<line x1="501.50" y1="342.6" x2="501.50" y2="346.00" class="tk"/>
<text transform="translate(501.50,356.65) scale(0.94,1)" class="tl" text-anchor="middle">0.0150</text>
<line x1="569.50" y1="342.6" x2="569.50" y2="346.00" class="tk"/>
<text transform="translate(569.50,356.65) scale(0.94,1)" class="tl" text-anchor="middle">0.0175</text>
<line x1="60.60" y1="328.27" x2="64.0" y2="328.27" class="tk"/>
<text transform="translate(56.6,332.31) scale(0.94,1)" class="tl" text-anchor="end">0.300</text>
<line x1="60.60" y1="292.39" x2="64.0" y2="292.39" class="tk"/>
<text transform="translate(56.6,296.43) scale(0.94,1)" class="tl" text-anchor="end">0.325</text>
<line x1="60.60" y1="256.54" x2="64.0" y2="256.54" class="tk"/>
<text transform="translate(56.6,260.58) scale(0.94,1)" class="tl" text-anchor="end">0.350</text>
<line x1="60.60" y1="220.98" x2="64.0" y2="220.98" class="tk"/>
<text transform="translate(56.6,225.03) scale(0.94,1)" class="tl" text-anchor="end">0.375</text>
<line x1="60.60" y1="185.12" x2="64.0" y2="185.12" class="tk"/>
<text transform="translate(56.6,189.17) scale(0.94,1)" class="tl" text-anchor="end">0.400</text>
<line x1="60.60" y1="149.36" x2="64.0" y2="149.36" class="tk"/>
<text transform="translate(56.6,153.41) scale(0.94,1)" class="tl" text-anchor="end">0.425</text>
<line x1="60.60" y1="113.41" x2="64.0" y2="113.41" class="tk"/>
<text transform="translate(56.6,117.45) scale(0.94,1)" class="tl" text-anchor="end">0.450</text>
<line x1="60.60" y1="77.85" x2="64.0" y2="77.85" class="tk"/>
<text transform="translate(56.6,81.89) scale(0.94,1)" class="tl" text-anchor="end">0.475</text>
<line x1="60.60" y1="41.20" x2="64.0" y2="41.20" class="tk"/>
<text transform="translate(56.6,45.25) scale(0.94,1)" class="tl" text-anchor="end">0.500</text>
<text x="335.5" y="372" class="lb" text-anchor="middle">Time</text>
<text transform="translate(20.1,186.2) rotate(-90)" class="lb" text-anchor="middle">Carbon Monoxide Volume</text>
<text x="335.7" y="21.65" class="tt" text-anchor="middle">Carbon Monoxide Volume vs Time in alveoli</text>
<rect x="512.2" y="278.2" width="90.30" height="58.40" rx="2" ry="2" fill="#fff" fill-opacity="0.8" stroke="#ccc" stroke-width="0.97"/>
<line x1="516.3" y1="288.30" x2="539.6" y2="288.30" stroke="#000" stroke-width="1.46" stroke-dasharray="5.40,2.34"/>
<text x="548.1" y="292.60" class="lg">Rest</text>
<line x1="516.3" y1="306.60" x2="539.6" y2="306.60" stroke="#000" stroke-width="1.46" stroke-dasharray="1.46,2.41"/>
<text x="548.1" y="311.30" class="lg">Normal</text>
<line x1="516.3" y1="324.90" x2="539.6" y2="324.90" stroke="#000" stroke-width="1.46" stroke-dasharray="9.34,2.34,1.46,2.34"/>
<text x="548.1" y="329.60" class="lg">Exercise</text>
<text x="77.0" y="416.0" class="cap" textLength="466.3" lengthAdjust="spacingAndGlyphs">Figure 5: Carbon monoxide volume in various situations.</text>
</svg>
</body></html>
